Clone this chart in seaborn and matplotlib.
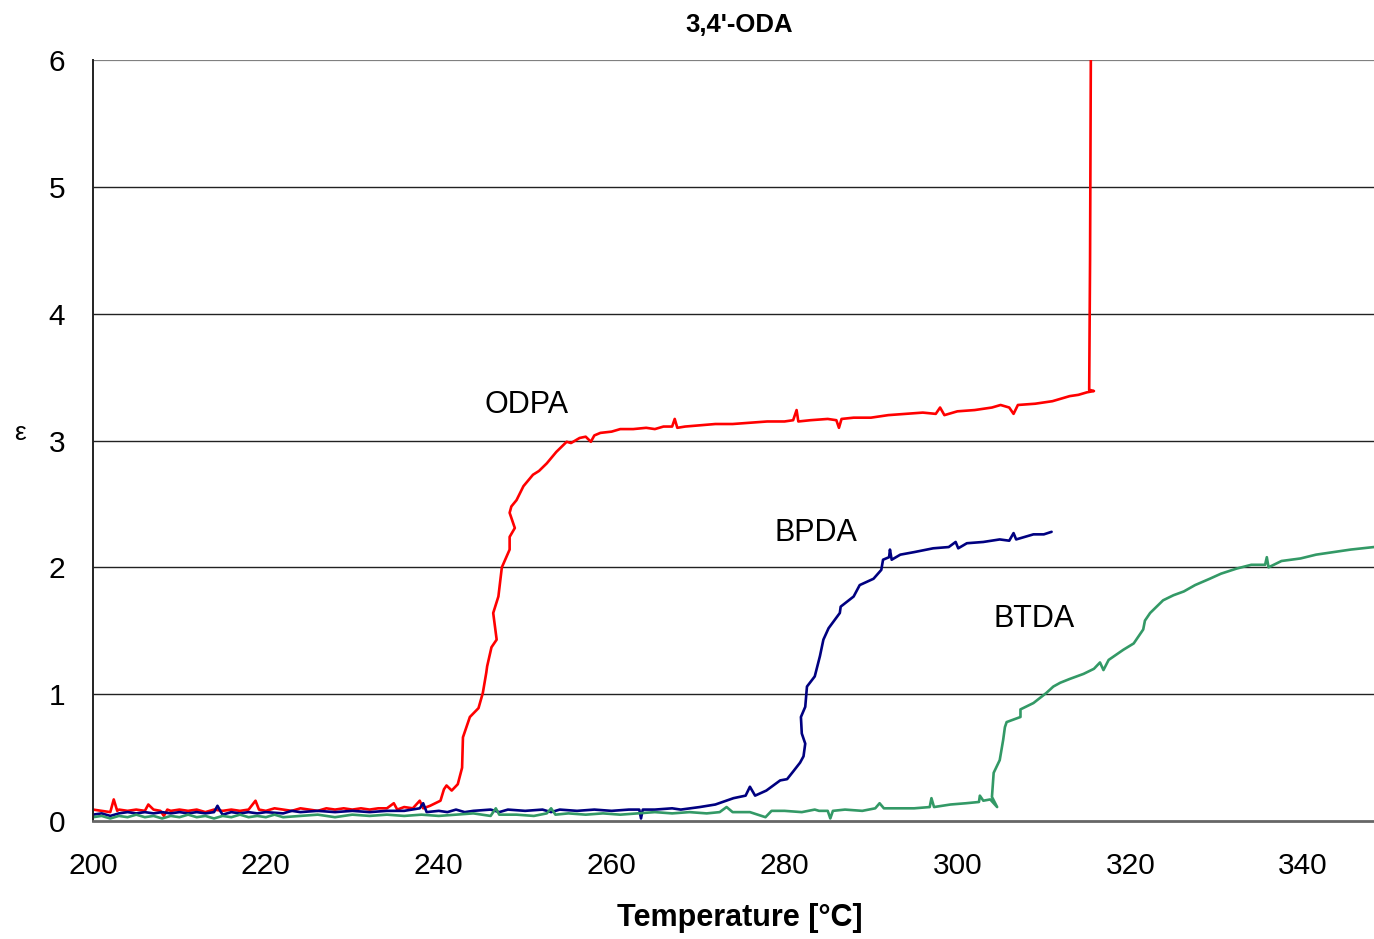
import matplotlib
matplotlib.use("Agg")
import matplotlib.pyplot as plt
import seaborn as sns
import pandas as pd

# ---------------- data ----------------
odpa_T = [200, 201, 202, 202.4, 202.8, 203, 204, 205, 206, 206.4, 207, 207.8, 208.2, 208.6, 209,
          210, 211, 212, 213, 214, 215, 216, 217, 218, 218.8, 219.2, 220, 221, 222, 223, 224, 225,
          226, 227, 228, 229, 230, 231, 232, 233, 234, 234.8, 235.2, 236, 237, 237.8, 238.2, 239,
          239.6, 240.2, 240.6, 240.9, 241.5, 242.2, 242.7, 242.8, 243.6, 244.6, 245.1, 245.5, 245.6,
          246.1, 246.7, 246.3, 246.9, 247.3, 248.2, 248.2, 248.8, 248.2, 248.4, 249.0, 249.8, 250.9,
          251.6, 252.5, 253.6, 254.8, 255.3, 256.3, 257, 257.6, 258, 258.7, 260, 261, 262.5, 264,
          265, 266, 267, 267.3, 267.6, 268.5, 270.2, 272, 274, 276, 278, 280, 281, 281.4, 281.6,
          283, 285, 286, 286.3, 286.6, 288, 290, 292, 294, 296, 297.5, 298, 298.5, 300, 302, 304,
          305, 306, 306.5, 307, 309, 310, 311, 312, 313, 314, 315, 315.8, 315.25, 315.35, 315.45]
odpa_E = [0.09, 0.08, 0.07, 0.17, 0.08, 0.09, 0.08, 0.09, 0.08, 0.13, 0.09, 0.08, 0.04, 0.09, 0.08,
          0.09, 0.08, 0.09, 0.07, 0.09, 0.08, 0.09, 0.08, 0.09, 0.16, 0.09, 0.08, 0.10, 0.09, 0.08,
          0.10, 0.09, 0.08, 0.10, 0.09, 0.10, 0.09, 0.10, 0.09, 0.10, 0.10, 0.14, 0.09, 0.11, 0.10,
          0.16, 0.10, 0.12, 0.14, 0.16, 0.25, 0.28, 0.24, 0.29, 0.42, 0.66, 0.82, 0.89, 1.01, 1.17,
          1.22, 1.37, 1.43, 1.64, 1.77, 2.00, 2.14, 2.24, 2.31, 2.43, 2.48, 2.53, 2.64, 2.73, 2.76,
          2.82, 2.91, 2.99, 2.98, 3.02, 3.03, 2.99, 3.04, 3.06, 3.07, 3.09, 3.09, 3.10, 3.09, 3.11,
          3.11, 3.17, 3.10, 3.11, 3.12, 3.13, 3.13, 3.14, 3.15, 3.15, 3.16, 3.24, 3.15, 3.16, 3.17,
          3.16, 3.10, 3.17, 3.18, 3.18, 3.20, 3.21, 3.22, 3.21, 3.26, 3.20, 3.23, 3.24, 3.26, 3.28,
          3.26, 3.21, 3.28, 3.29, 3.30, 3.31, 3.33, 3.35, 3.36, 3.38, 3.39, 3.40, 4.42, 6.20]

bpda_T = [200, 201, 202, 203, 204, 205, 206, 207, 208, 209, 210, 211, 212, 213, 214, 214.4, 214.8,
          215, 216, 217, 218, 219, 220, 222, 223, 224, 226, 228, 230, 232, 234, 236, 237.8, 238.2,
          238.6, 240, 241, 242, 243, 244, 246, 247, 248, 250, 252, 253, 254, 256, 258, 260, 262,
          263.2, 263.4, 263.6, 265, 267, 268, 270.2, 272, 274.1, 275.5, 276.0, 276.6, 277.9, 279.5,
          280.3, 281.0, 281.8, 282.2, 282.4, 282.0, 281.9, 282.4, 282.6, 283.5, 283.8, 284.1, 284.5,
          285.1, 286.4, 286.5, 288.0, 288.7, 290.3, 291.2, 291.4, 292.1, 292.2, 292.4, 293.4, 295,
          297.2, 299, 299.8, 300.1, 301.1, 303, 304.9, 306, 306.5, 306.8, 308.8, 310, 310.9]
bpda_E = [0.05, 0.06, 0.04, 0.06, 0.07, 0.06, 0.07, 0.06, 0.07, 0.06, 0.07, 0.06, 0.07, 0.06, 0.07,
          0.12, 0.07, 0.05, 0.07, 0.06, 0.07, 0.06, 0.07, 0.06, 0.08, 0.07, 0.08, 0.07, 0.08, 0.07,
          0.08, 0.08, 0.10, 0.14, 0.07, 0.08, 0.07, 0.09, 0.07, 0.08, 0.09, 0.07, 0.09, 0.08, 0.09,
          0.07, 0.09, 0.08, 0.09, 0.08, 0.09, 0.09, 0.02, 0.09, 0.09, 0.10, 0.09, 0.11, 0.13, 0.18,
          0.20, 0.27, 0.20, 0.24, 0.32, 0.33, 0.39, 0.46, 0.51, 0.61, 0.69, 0.82, 0.90, 1.06, 1.14,
          1.22, 1.30, 1.43, 1.52, 1.64, 1.69, 1.77, 1.86, 1.91, 1.98, 2.06, 2.08, 2.14, 2.06, 2.10,
          2.12, 2.15, 2.16, 2.20, 2.15, 2.19, 2.20, 2.22, 2.21, 2.27, 2.22, 2.26, 2.26, 2.28]

btda_T = [200, 201, 202, 203, 204, 205, 206, 207, 208, 209, 210, 211, 212, 213, 214, 215, 216, 217,
          218, 219, 220, 221, 222, 224, 226, 228, 230, 232, 234, 236, 238, 240, 242, 244, 246, 246.6,
          247, 249, 251, 252.5, 253, 253.5, 255, 257, 259, 261, 263, 265, 267, 269, 271, 272.5, 273.3,
          274, 276, 277.8, 278.5, 280, 282, 283.5, 284, 285, 285.3, 285.6, 287, 289, 290.5, 291,
          291.5, 293, 295, 296.8, 297, 297.3, 299.2, 301, 302.5, 302.6, 303, 303.8, 304.6, 304.0,
          304.2, 304.9, 305.3, 305.5, 305.7, 307.3, 307.3, 308.8, 310.3, 311.1, 311.9, 313, 314.6,
          315.8, 316.5, 316.9, 317.5, 319.2, 320.4, 321.5, 321.7, 322.3, 323.8, 325, 326.2, 327.5,
          329.2, 330.5, 332.3, 334, 335.6, 335.8, 336, 337.5, 339.7, 341.5, 343.5, 345.5, 348.2]
btda_E = [0.03, 0.04, 0.02, 0.04, 0.03, 0.05, 0.03, 0.04, 0.02, 0.04, 0.03, 0.05, 0.03, 0.04, 0.02,
          0.04, 0.03, 0.05, 0.03, 0.04, 0.03, 0.05, 0.03, 0.04, 0.05, 0.03, 0.05, 0.04, 0.05, 0.04,
          0.05, 0.04, 0.05, 0.06, 0.04, 0.10, 0.05, 0.05, 0.04, 0.06, 0.10, 0.05, 0.06, 0.05, 0.06,
          0.05, 0.06, 0.07, 0.06, 0.07, 0.06, 0.07, 0.11, 0.07, 0.07, 0.03, 0.08, 0.08, 0.07, 0.09,
          0.08, 0.08, 0.02, 0.08, 0.09, 0.08, 0.10, 0.14, 0.10, 0.10, 0.10, 0.11, 0.18, 0.11, 0.13,
          0.14, 0.15, 0.20, 0.16, 0.17, 0.11, 0.19, 0.38, 0.48, 0.64, 0.74, 0.78, 0.82, 0.88, 0.93,
          1.01, 1.06, 1.09, 1.12, 1.16, 1.20, 1.25, 1.19, 1.27, 1.35, 1.40, 1.51, 1.58, 1.64, 1.74,
          1.78, 1.81, 1.86, 1.91, 1.95, 1.99, 2.02, 2.02, 2.08, 2.00, 2.05, 2.07, 2.10, 2.12, 2.14,
          2.16]

series_names = ["ODPA", "BPDA", "BTDA"]
series_colors = ["#FF0000", "#000080", "#339966"]
label_pos = [(250.2, 3.28), (283.65, 2.27), (308.9, 1.59)]

x_ticks = [200, 220, 240, 260, 280, 300, 320, 340]
y_ticks = [0, 1, 2, 3, 4, 5, 6]

# ---------------- figure ----------------
sns.set_theme(style="white")
plt.rcParams["font.family"] = ["Liberation Sans", "DejaVu Sans"]
plt.rcParams["text.color"] = "black"
plt.rcParams["axes.labelcolor"] = "black"

fig = plt.figure(figsize=(13.74, 9.39), dpi=100)
ax = fig.add_axes([93 / 1374, 1 - 821 / 939, 1 - 93 / 1374, (821 - 60) / 939])

for T, E, c in zip([odpa_T, bpda_T, btda_T], [odpa_E, bpda_E, btda_E], series_colors):
    df = pd.DataFrame({"T": T, "E": E})
    sns.lineplot(data=df, x="T", y="E", sort=False, estimator=None, color=c,
                 linewidth=1.9, ax=ax)

for name, (tx, ty) in zip(series_names, label_pos):
    ax.text(tx, ty, name, fontsize=22, ha="center", va="center", color="black")

ax.set_xlim(200, 348.2)
ax.set_ylim(0, 6)
ax.set_xticks(x_ticks)
ax.set_yticks(y_ticks)
ax.tick_params(axis="both", direction="out", length=9, width=1.2, colors="#444444",
               labelsize=21.5, labelcolor="black")
ax.tick_params(axis="x", pad=13)
ax.tick_params(axis="y", pad=11)

for yv in y_ticks[1:]:
    ax.axhline(yv, color="#222222" if yv < 6 else "#808080", linewidth=1.0 if yv < 6 else 1.6,
               zorder=0.5)

for s in ["top", "right"]:
    ax.spines[s].set_visible(False)
ax.spines["left"].set_color("#222222")
ax.spines["left"].set_linewidth(1.4)
ax.spines["bottom"].set_color("#666666")
ax.spines["bottom"].set_linewidth(2.0)
ax.set_xlabel("Temperature [°C]", fontsize=22, fontweight="bold", color="black")
ax.xaxis.set_label_coords((739.5 - 93) / 1281, -(918 - 821) / 761)
ax.xaxis.label.set_va("center")
ax.set_ylabel("")
fig.text(20 / 1374, 1 - 433 / 939, "ε", fontsize=19, ha="center", va="center", color="black")
fig.text(739 / 1374, 1 - 25 / 939, "3,4'-ODA", fontsize=18.5, fontweight="bold",
         ha="center", va="center", color="black")

fig.savefig("out.png", dpi=100)
